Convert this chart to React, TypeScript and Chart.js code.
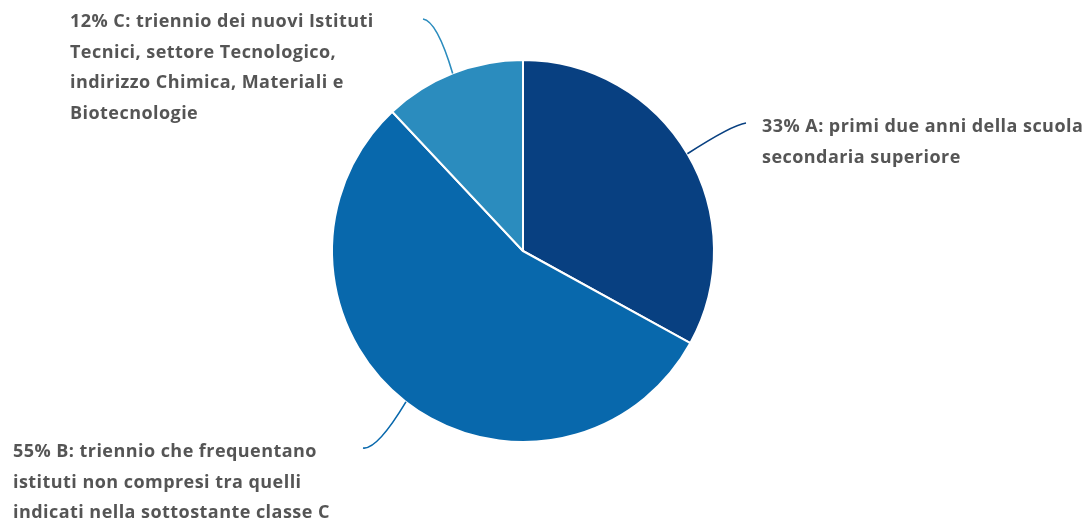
import React, { useEffect, useRef } from "react";
import { Chart, registerables } from "chart.js";

Chart.register(...registerables);

const categories = ["A", "B", "C"];
const shares = [33, 55, 12];
const descriptions = [
  ["primi due anni della scuola", "secondaria superiore"],
  ["triennio che frequentano", "istituti non compresi tra quelli", "indicati nella sottostante classe C"],
  ["triennio dei nuovi Istituti", "Tecnici, settore Tecnologico,", "indirizzo Chimica, Materiali e", "Biotecnologie"],
];
const sliceColors = ["#084081", "#0868ac", "#2b8cbe"];

// label layout (text block position + connector end), in canvas pixels
const labelLayout = [
  { textX: 762, textY: 127, endX: 746, endY: 123, side: 1 },
  { textX: 13, textY: 452, endX: 363, endY: 448, side: -1 },
  { textX: 70, textY: 22, endX: 423, endY: 19, side: -1 },
];

const FONT = "bold 18px 'Open Sans', sans-serif";
const LINE_H = 30.5;

const labelPlugin = {
  id: "outerLabels",
  afterDatasetsDraw(chart: any) {
    const ctx = chart.ctx;
    const meta = chart.getDatasetMeta(0);
    ctx.save();
    meta.data.forEach((arc: any, i: number) => {
      const p = arc.getProps(["x", "y", "startAngle", "endAngle", "outerRadius"], true);
      const mid = (p.startAngle + p.endAngle) / 2;
      const sx = p.x + Math.cos(mid) * p.outerRadius;
      const sy = p.y + Math.sin(mid) * p.outerRadius;
      const L = labelLayout[i];
      const cpx = L.endX - L.side * 14;
      const cpy = L.endY + 2;
      ctx.beginPath();
      ctx.moveTo(sx, sy);
      ctx.quadraticCurveTo(cpx, cpy, L.endX, L.endY);
      ctx.strokeStyle = sliceColors[i];
      ctx.lineWidth = 1.6;
      ctx.stroke();

      const lines = descriptions[i].slice();
      lines[0] = `${shares[i]}% ${categories[i]}: ${lines[0]}`;
      ctx.fillStyle = "#555555";
      ctx.font = FONT;
      try { (ctx as any).letterSpacing = "0.45px"; } catch (e) {}
      ctx.textAlign = "left";
      ctx.textBaseline = "middle";
      lines.forEach((ln, k) => ctx.fillText(ln, L.textX, L.textY + k * LINE_H));
    });
    ctx.restore();
  },
};

export default function App() {
  const ref = useRef<HTMLCanvasElement | null>(null);
  useEffect(() => {
    if (!ref.current) return;
    const chart = new Chart(ref.current, {
      type: "pie",
      data: {
        labels: categories,
        datasets: [
          {
            data: shares,
            backgroundColor: sliceColors,
            borderColor: "#ffffff",
            borderWidth: 2,
            hoverOffset: 0,
          },
        ],
      },
      options: {
        responsive: false,
        animation: false,
        layout: { padding: { left: 331, right: 373, top: 59, bottom: 78 } },
        plugins: {
          legend: { display: false },
          tooltip: { enabled: false },
        },
      },
      plugins: [labelPlugin],
    });
    return () => chart.destroy();
  }, []);
  return (
    <div style={{ position: "absolute", left: 0, top: 0, width: 1088, height: 521, background: "#fff" }}>
      <canvas ref={ref} width={1088} height={521} />
    </div>
  );
}
